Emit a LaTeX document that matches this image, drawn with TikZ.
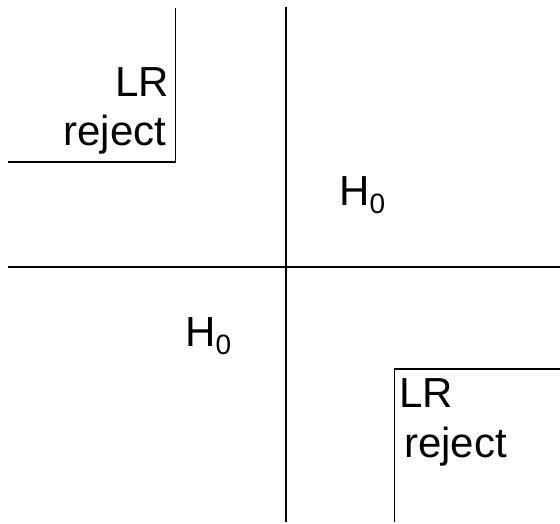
\documentclass[tikz,border=0pt]{standalone}
\usepackage{fontspec}
\setmainfont{Liberation Sans}
\newcommand{\hnull}{H{\fontsize{28}{28}\selectfont\raisebox{-8pt}{0}}}
\begin{document}
\begin{tikzpicture}[x=1pt,y=-1pt,
  axisline/.style={line width=1.2pt,black},
  lbl/.style={inner sep=0pt,font=\fontsize{42}{42}\selectfont}]
\useasboundingbox[fill=white] (0,0) rectangle (560,524);
% main cross
\coordinate (vt) at (286,7);
\coordinate (vb) at (286,522);
\coordinate (hl) at (8,267);
\coordinate (hr) at (560,267);
\draw[axisline] (vt) -- (vb);
\draw[axisline] (hl) -- (hr);
% top-left reject region
\coordinate (tlv) at (175.5,8);
\coordinate (tlc) at (175.5,162);
\coordinate (tlh) at (8,162);
\draw[axisline] (tlv) -- (tlc) -- (tlh);
% bottom-right reject region
\coordinate (brv) at (394.5,522);
\coordinate (brc) at (394.5,369);
\coordinate (brh) at (560,369);
\draw[axisline] (brv) -- (brc) -- (brh);
% labels
\node[lbl,anchor=base east] (lr1) at (169,97) {LR};
\node[lbl,anchor=base east] (rj1) at (166.5,146) {reject};
\node[lbl,anchor=base west] (lr2) at (399,407) {LR};
\node[lbl,anchor=base west] (rj2) at (404,457) {reject};
\node[lbl,anchor=base west] (h1) at (339,206) {\hnull};
\node[lbl,anchor=base west] (h2) at (185,346) {\hnull};
\end{tikzpicture}
\end{document}
